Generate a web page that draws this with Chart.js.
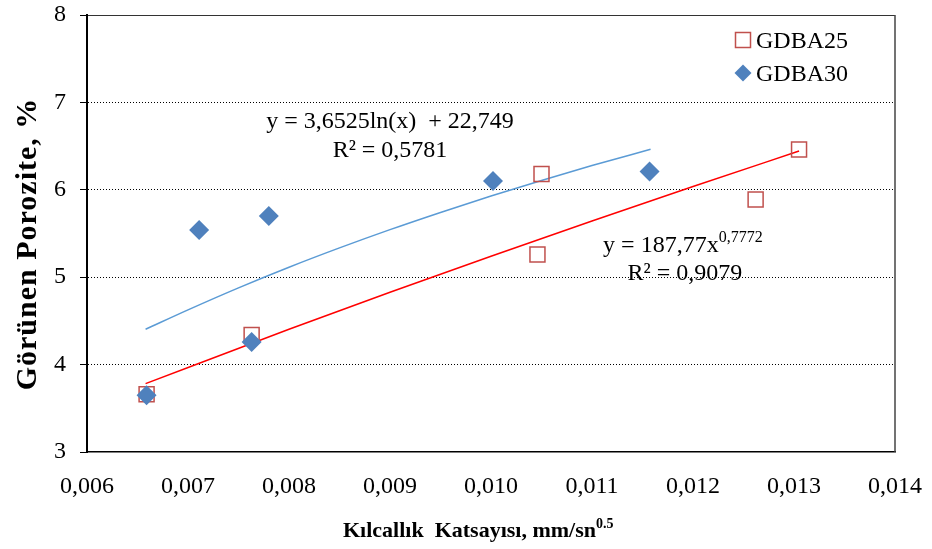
<!DOCTYPE html>
<html lang="tr">
<head>
    <meta charset="UTF-8">
    <title>Porozite - Kılcallık</title>
    <script src="https://cdn.jsdelivr.net/npm/chart.js@4.4.1/dist/chart.umd.min.js"></script>
    <style>
        html, body { margin: 0; padding: 0; background: #fff; }
        #chart { display: block; }
    </style>
</head>
<body>
    <canvas id="chart" width="932" height="549"></canvas>

    <script>
      // values
      const xTickLabels = ['0,006', '0,007', '0,008', '0,009', '0,010', '0,011', '0,012', '0,013', '0,014'];
      const yTickLabels = ['3', '4', '5', '6', '7', '8'];

      const gdba25X = [0.00659, 0.00763, 0.01046, 0.01050, 0.01262, 0.01305];
      const gdba25Y = [3.66, 4.34, 5.26, 6.18, 5.89, 6.46];

      const gdba30X = [0.00659, 0.00711, 0.00763, 0.00780, 0.01002, 0.01157];
      const gdba30Y = [3.65, 5.54, 4.26, 5.70, 6.10, 6.21];

      // trend lines as drawn in the picture
      const trend30X = [0.00658, 0.0070, 0.0075, 0.0080, 0.0085, 0.0090, 0.0095, 0.0100, 0.0105, 0.0110, 0.01158];
      const trend30Y = [4.404, 4.626, 4.878, 5.114, 5.335, 5.544, 5.741, 5.929, 6.107, 6.277, 6.464];
      const trend25X = [0.00658, 0.0080, 0.0090, 0.0100, 0.0110, 0.0120, 0.01305];
      const trend25Y = [3.782, 4.405, 4.828, 5.239, 5.643, 6.037, 6.443];

      const serif = '"Liberation Serif", "Times New Roman", serif';

      function toPoints(xs, ys) {
        return xs.map((x, i) => ({ x: x, y: ys[i] }));
      }

      function drawSquare(ctx, x, y) {
        ctx.save();
        ctx.strokeStyle = '#C0504D';
        ctx.lineWidth = 1.5;
        ctx.strokeRect(x - 7.5, y - 7.5, 15, 15);
        ctx.restore();
      }

      function drawDiamond(ctx, x, y) {
        ctx.save();
        ctx.fillStyle = '#4F81BD';
        ctx.beginPath();
        ctx.moveTo(x, y - 8.5);
        ctx.lineTo(x + 8.5, y);
        ctx.lineTo(x, y + 8.5);
        ctx.lineTo(x - 8.5, y);
        ctx.closePath();
        ctx.fill();
        ctx.restore();
      }

      // frame, legend, equations and axis titles
      const extras = {
        id: 'extras',
        afterDraw(chart) {
          const ctx = chart.ctx;
          const area = chart.chartArea;
          const xs = chart.scales.x;
          const ys = chart.scales.y;

          ctx.save();
          // plot frame
          ctx.strokeStyle = '#333';
          ctx.lineWidth = 1;
          ctx.beginPath();
          ctx.moveTo(area.left, area.top + 0.5);
          ctx.lineTo(area.right, area.top + 0.5);
          ctx.stroke();
          ctx.strokeStyle = '#444';
          ctx.lineWidth = 1.5;
          ctx.beginPath();
          ctx.moveTo(area.right, area.top);
          ctx.lineTo(area.right, area.bottom);
          ctx.stroke();
          ctx.strokeStyle = '#000';
          ctx.lineWidth = 2;
          ctx.beginPath();
          ctx.moveTo(area.left, area.top);
          ctx.lineTo(area.left, area.bottom);
          ctx.stroke();

          // legend
          ctx.fillStyle = '#000';
          ctx.font = '24px ' + serif;
          ctx.textAlign = 'left';
          ctx.textBaseline = 'alphabetic';
          drawSquare(ctx, 743, 40);
          ctx.fillText('GDBA25', 756, 48);
          drawDiamond(ctx, 743, 73);
          ctx.fillText('GDBA30', 756, 81);

          // equations
          ctx.textAlign = 'center';
          ctx.fillText('y = 3,6525ln(x)  + 22,749', xs.getPixelForValue(0.0090), ys.getPixelForValue(6.71));
          ctx.fillText('R\u00B2 = 0,5781', xs.getPixelForValue(0.0090), ys.getPixelForValue(6.37));

          ctx.textAlign = 'left';
          const ex = xs.getPixelForValue(0.01111);
          const ey = ys.getPixelForValue(5.29);
          const main = 'y = 187,77x';
          ctx.fillText(main, ex, ey);
          const w = ctx.measureText(main).width;
          ctx.font = '16px ' + serif;
          ctx.fillText('0,7772', ex + w, ey - 10);
          ctx.font = '24px ' + serif;
          ctx.textAlign = 'center';
          ctx.fillText('R\u00B2 = 0,9079', xs.getPixelForValue(0.01192), ys.getPixelForValue(4.97));

          // x axis title with superscript
          ctx.textAlign = 'left';
          ctx.font = 'bold 22px ' + serif;
          const xt = 'K\u0131lcall\u0131k  Katsay\u0131s\u0131, mm/sn';
          const xw = ctx.measureText(xt).width;
          const x0 = area.left + 256;
          ctx.fillText(xt, x0, 537);
          ctx.font = 'bold 14px ' + serif;
          ctx.fillText('0.5', x0 + xw, 528);

          // y axis title
          ctx.translate(36, 244);
          ctx.rotate(-Math.PI / 2);
          ctx.textAlign = 'center';
          ctx.font = 'bold 30px ' + serif;
          ctx.letterSpacing = '1px';
          ctx.fillText('G\u00F6r\u00FCnen Porozite, %', 0, 0);
          ctx.restore();
        }
      };

      const chart = new Chart(document.getElementById('chart'), {
        type: 'scatter',
        data: {
          datasets: [
            {
              label: 'GDBA25',
              data: toPoints(gdba25X, gdba25Y),
              pointStyle: 'rect',
              radius: 10.6,
              hoverRadius: 10.6,
              borderColor: '#C0504D',
              borderWidth: 1.5,
              backgroundColor: 'rgba(0,0,0,0)',
              order: 1
            },
            {
              label: 'GDBA30',
              data: toPoints(gdba30X, gdba30Y),
              pointStyle: 'rectRot',
              radius: 10,
              hoverRadius: 10,
              borderWidth: 0,
              backgroundColor: '#4F81BD',
              borderColor: '#4F81BD',
              order: 0
            },
            {
              label: 'trend30',
              data: toPoints(trend30X, trend30Y),
              showLine: true,
              pointRadius: 0,
              borderColor: '#5B9BD5',
              borderWidth: 1.5,
              cubicInterpolationMode: 'monotone',
              order: 2
            },
            {
              label: 'trend25',
              data: toPoints(trend25X, trend25Y),
              showLine: true,
              pointRadius: 0,
              borderColor: '#FF0000',
              borderWidth: 1.5,
              cubicInterpolationMode: 'monotone',
              order: 3
            }
          ]
        },
        options: {
          responsive: false,
          animation: false,
          layout: { padding: { top: 15, right: 37, left: 0, bottom: 0 } },
          plugins: {
            legend: { display: false },
            tooltip: { enabled: false }
          },
          scales: {
            x: {
              type: 'linear',
              min: 0.006,
              max: 0.014,
              afterFit: s => { s.height = 97; s.paddingLeft = 0; s.paddingRight = 0; },
              ticks: {
                stepSize: 0.001,
                callback: (v, i) => xTickLabels[i],
                font: { family: serif, size: 24 },
                color: '#000',
                padding: 20,
                maxRotation: 0
              },
              grid: { drawOnChartArea: false, drawTicks: false },
              border: { color: '#000', width: 1.5 }
            },
            y: {
              min: 3,
              max: 8,
              afterFit: s => { s.width = 87; s.paddingTop = 0; s.paddingBottom = 0; },
              ticks: {
                stepSize: 1,
                callback: (v, i) => yTickLabels[i],
                font: { family: serif, size: 24 },
                color: '#000',
                padding: 14
              },
              grid: {
                color: c => (c.tick && (c.tick.value === 3 || c.tick.value === 8)) ? 'rgba(0,0,0,0)' : '#000',
                lineWidth: 1,
                tickColor: '#000',
                tickLength: 7,
                tickBorderDash: []
              },
              border: { color: '#000', width: 2, dash: [1, 2] }
            }
          }
        },
        plugins: [extras]
      });
    </script>
</body>
</html>
